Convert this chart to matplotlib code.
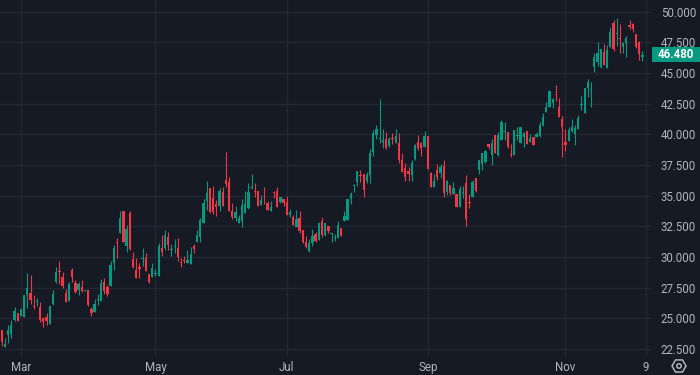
import numpy as np
import matplotlib
matplotlib.use('Agg')
import matplotlib.pyplot as plt
from matplotlib.patches import Rectangle, RegularPolygon, Circle
from matplotlib.transforms import IdentityTransform
from matplotlib.ticker import StrMethodFormatter

plt.rcParams['font.family'] = ['Roboto', 'DejaVu Sans']

# daily candles (oldest first)
opens = [
    24.06, 22.70, 23.65, 23.73, 24.87, 25.42, 25.20, 25.09, 26.91, 27.10,
    26.01, 26.34, 25.96, 25.06, 25.09, 24.55, 26.18, 28.00, 28.87, 28.41,
    27.10, 26.45, 28.95, 27.86, 27.32, 27.59, 27.26, 27.32, 25.74, 25.55,
    26.50, 26.45, 27.94, 27.59, 27.67, 29.54, 31.23, 31.99, 33.76, 30.90,
    33.62, 29.84, 28.94, 29.16, 29.82, 29.95, 28.62, 28.40, 28.62, 28.46,
    30.71, 30.71, 31.66, 30.55, 30.85, 30.71, 29.63, 29.76, 29.49, 29.44,
    30.90, 31.26, 31.61, 32.80, 34.60, 35.60, 34.79, 34.33, 34.19, 35.30,
    36.28, 36.15, 33.76, 33.21, 32.80, 32.97, 33.62, 33.97, 35.60, 35.39,
    35.39, 34.25, 34.60, 34.38, 33.78, 35.28, 35.39, 34.52, 34.71, 34.52,
    33.43, 33.24, 32.48, 33.16, 32.21, 31.20, 30.52, 31.12, 31.88, 31.39,
    32.94, 31.80, 32.53, 31.88, 31.56, 31.53, 32.34, 32.97, 33.02, 34.71,
    35.80, 36.15, 36.69, 36.74, 36.23, 36.69, 38.59, 39.95, 39.60, 39.41,
    39.60, 39.05, 39.68, 39.27, 39.27, 37.91, 37.23, 37.04, 36.69, 37.97,
    39.41, 39.33, 39.00, 39.87, 36.83, 35.68, 37.10, 36.88, 37.42, 35.33,
    35.87, 35.14, 35.14, 34.11, 35.22, 36.01, 34.46, 34.87, 36.42, 37.10,
    37.59, 37.78, 39.22, 38.32, 39.95, 38.32, 39.54, 40.22, 40.22, 38.40,
    38.32, 39.87, 39.32, 39.76, 40.28, 39.40, 39.76, 39.81, 39.87, 40.76,
    41.85, 42.20, 42.58, 43.26, 42.26, 41.23, 39.40, 39.46, 40.30, 40.03,
    40.44, 42.37, 41.71, 43.75, 43.64, 45.52, 45.93, 45.46, 46.74, 45.38,
    47.15, 49.05, 48.21, 47.86, 47.15, 47.48, 48.92, 49.00, 48.18, 47.56,
    46.28,
]
highs = [
    24.06, 23.38, 24.47, 24.87, 25.91, 25.47, 25.80, 26.91, 28.73, 28.54,
    26.91, 26.69, 26.37, 25.06, 25.42, 26.01, 27.32, 29.17, 29.68, 28.76,
    27.37, 28.00, 29.08, 28.13, 28.00, 28.13, 27.35, 27.32, 25.96, 26.56,
    26.99, 28.22, 28.27, 27.73, 29.71, 30.98, 31.53, 33.76, 33.76, 32.62,
    33.76, 30.39, 29.90, 29.49, 30.71, 30.31, 28.62, 29.49, 29.00, 31.12,
    31.80, 32.21, 32.07, 31.07, 31.45, 31.53, 29.90, 30.12, 30.58, 30.79,
    31.07, 32.21, 33.16, 34.71, 36.20, 35.60, 35.79, 34.65, 35.60, 35.68,
    38.59, 36.50, 34.38, 34.16, 33.43, 34.71, 35.39, 36.07, 36.77, 36.07,
    35.39, 35.06, 35.68, 34.60, 34.60, 35.41, 35.74, 34.87, 34.71, 34.98,
    33.89, 33.43, 33.84, 33.78, 32.21, 31.72, 31.45, 32.26, 32.07, 32.75,
    33.24, 32.80, 32.53, 31.99, 31.88, 32.97, 32.34, 33.78, 34.71, 35.33,
    35.96, 37.02, 37.10, 36.74, 36.96, 38.78, 40.36, 40.77, 42.88, 40.41,
    40.17, 39.76, 40.09, 40.41, 40.09, 38.46, 37.64, 37.31, 37.91, 39.22,
    39.95, 39.41, 40.28, 39.87, 36.96, 36.77, 37.56, 37.59, 37.91, 36.28,
    35.87, 36.15, 35.14, 35.79, 35.79, 36.69, 35.14, 36.28, 36.42, 37.91,
    38.46, 38.73, 39.22, 39.60, 39.95, 40.22, 41.17, 41.04, 40.22, 39.22,
    40.36, 40.63, 40.63, 40.22, 40.28, 40.00, 39.76, 40.22, 41.04, 41.77,
    42.67, 43.62, 42.94, 44.02, 42.94, 41.50, 40.44, 40.57, 41.23, 40.76,
    41.58, 43.13, 43.75, 44.51, 44.24, 46.61, 47.50, 46.93, 47.37, 47.29,
    48.73, 49.32, 49.49, 49.00, 47.56, 48.02, 49.32, 49.05, 48.18, 47.64,
    46.80,
]
lows = [
    22.75, 22.70, 23.03, 23.38, 24.82, 24.82, 25.20, 25.09, 25.82, 26.18,
    25.77, 26.01, 24.74, 24.33, 24.47, 24.55, 26.10, 27.92, 27.78, 27.45,
    26.37, 26.45, 28.00, 27.10, 26.91, 27.16, 27.24, 26.01, 25.20, 25.55,
    26.10, 26.45, 26.99, 26.86, 27.67, 28.94, 29.90, 31.93, 31.26, 30.44,
    30.58, 29.08, 28.27, 28.27, 29.27, 28.89, 27.91, 28.40, 28.46, 28.46,
    30.09, 30.58, 30.58, 30.09, 30.36, 29.71, 29.22, 29.49, 29.49, 29.44,
    30.31, 31.26, 31.26, 32.80, 33.84, 33.56, 33.51, 33.35, 33.78, 34.19,
    35.74, 33.76, 33.08, 32.97, 32.80, 32.48, 33.57, 33.89, 35.52, 34.92,
    34.16, 34.25, 34.33, 33.84, 33.78, 34.79, 34.11, 34.38, 34.16, 33.43,
    33.24, 32.62, 32.48, 31.93, 31.12, 30.71, 30.44, 30.90, 31.26, 31.39,
    31.66, 31.72, 31.94, 31.26, 31.34, 31.53, 31.75, 32.97, 33.02, 34.33,
    35.33, 35.79, 36.15, 34.87, 36.01, 36.01, 38.24, 39.60, 39.33, 38.86,
    38.78, 38.95, 39.22, 39.27, 37.70, 36.96, 36.23, 36.23, 36.23, 37.91,
    38.73, 38.24, 38.95, 37.15, 35.68, 35.68, 36.28, 36.42, 34.92, 35.06,
    35.06, 35.14, 34.06, 34.11, 34.79, 32.53, 33.97, 34.87, 35.33, 36.77,
    37.10, 37.70, 38.78, 37.50, 38.46, 38.24, 39.54, 39.54, 38.86, 38.18,
    38.32, 39.54, 39.32, 38.94, 39.20, 39.40, 39.13, 39.76, 39.76, 40.68,
    41.85, 42.20, 42.12, 42.75, 41.39, 38.13, 38.67, 39.46, 40.22, 39.13,
    40.44, 41.99, 41.71, 43.07, 42.26, 45.11, 45.57, 45.38, 45.66, 45.38,
    47.15, 46.82, 47.23, 46.66, 46.66, 46.33, 48.56, 48.37, 47.01, 46.06,
    46.01,
]
closes = [
    23.11, 22.92, 24.06, 24.47, 25.61, 24.82, 25.77, 26.91, 27.45, 26.50,
    25.91, 26.42, 24.87, 24.74, 24.82, 26.01, 26.99, 28.81, 28.79, 27.67,
    26.37, 27.81, 28.41, 27.18, 27.78, 27.26, 27.32, 26.10, 25.47, 26.18,
    26.58, 27.92, 27.26, 26.99, 29.35, 30.71, 31.12, 33.16, 31.26, 32.26,
    30.63, 29.16, 28.32, 29.00, 29.90, 28.89, 27.99, 29.08, 28.73, 30.90,
    30.44, 31.80, 30.98, 30.63, 30.90, 29.98, 29.54, 29.71, 29.76, 30.25,
    30.63, 31.80, 33.02, 34.44, 35.20, 33.70, 33.70, 34.06, 35.39, 34.19,
    35.96, 33.76, 33.24, 33.65, 33.16, 34.25, 34.33, 35.33, 35.68, 35.30,
    34.16, 34.65, 34.54, 33.84, 34.06, 35.20, 34.11, 34.87, 34.38, 33.43,
    33.70, 32.62, 33.08, 32.15, 31.26, 30.79, 31.18, 31.72, 31.34, 32.75,
    31.80, 32.75, 32.15, 31.94, 31.61, 32.62, 31.75, 33.35, 34.71, 35.14,
    35.88, 37.02, 36.61, 35.47, 36.69, 38.46, 40.14, 40.41, 39.68, 39.54,
    38.92, 39.60, 39.60, 39.87, 37.91, 36.96, 36.55, 36.77, 37.64, 39.13,
    38.86, 38.86, 39.87, 37.15, 35.74, 36.23, 36.50, 37.31, 35.25, 36.20,
    35.19, 35.60, 34.06, 35.52, 35.30, 33.08, 34.41, 36.15, 35.41, 37.91,
    38.46, 38.65, 39.00, 39.33, 38.51, 39.95, 41.04, 40.28, 38.95, 38.35,
    40.36, 39.95, 40.63, 40.08, 39.20, 39.73, 39.13, 40.03, 40.76, 41.44,
    42.26, 43.56, 42.86, 43.21, 41.39, 40.57, 39.13, 40.36, 40.57, 40.49,
    41.36, 42.45, 43.75, 44.30, 43.70, 46.33, 46.66, 46.93, 45.66, 46.88,
    48.37, 46.96, 48.26, 47.80, 47.42, 47.83, 48.73, 48.56, 47.10, 46.55,
    46.48,
]

# time axis labels (bar index where each label sits)
month_pos = [6, 48, 89, 133, 176, 201]
month_labels = ['Mar', 'May', 'Jul', 'Sep', 'Nov', '9']

bg = '#161A25'
grid_col = '#232733'
up = '#089981'
down = '#F23645'
txt = '#B2B5BE'

fig = plt.figure(figsize=(7, 3.75), dpi=100, facecolor=bg)
ax = fig.add_axes([0, 19 / 375, 651 / 700, 356 / 375], facecolor=bg)

o = np.array(opens)
h = np.array(highs)
l = np.array(lows)
c = np.array(closes)
x = np.arange(len(c))
colors = np.where(c >= o, up, down)

# wicks then bodies
ax.vlines(x, l, h, colors=colors, linewidth=0.8, zorder=2)
body = np.maximum(np.abs(c - o), 0.06)
ax.bar(x, body, bottom=np.minimum(o, c), width=0.72, color=colors, linewidth=0, zorder=3)

ax.set_xlim(-0.53, 202.7)
ax.set_ylim(21.94, 50.95)

ax.yaxis.tick_right()
ax.set_yticks(np.arange(22.5, 50.01, 2.5))
ax.yaxis.set_major_formatter(StrMethodFormatter('{x:.3f}'))
ax.set_xticks(month_pos, month_labels)
ax.tick_params(axis='y', length=0, pad=7, labelcolor=txt, labelsize=8.3)
ax.tick_params(axis='x', length=0, pad=3.5, labelcolor=txt, labelsize=8.3)
ax.grid(color=grid_col, linewidth=1)
ax.set_axisbelow(True)
for s in ax.spines.values():
    s.set_visible(False)

# last price tag on the price scale
y_last = ax.transData.transform((0, closes[-1]))[1]
fig.add_artist(Rectangle((652, y_last - 7.5), 48, 15.5, transform=IdentityTransform(),
                         facecolor=up, edgecolor='none', zorder=5))
fig.text(676 / 700, y_last / 375, f'{closes[-1]:.3f}', ha='center', va='center',
         color='white', fontsize=8.3, fontweight='bold', zorder=6)

# settings icon in the corner
fig.add_artist(RegularPolygon((679, 9), 6, radius=7, orientation=np.pi / 6,
                              transform=IdentityTransform(), fill=False,
                              edgecolor=txt, linewidth=1.1))
fig.add_artist(Circle((679, 9), 2.2, transform=IdentityTransform(), fill=False,
                      edgecolor=txt, linewidth=1.1))

plt.savefig('out.png', dpi=100, facecolor=bg)
